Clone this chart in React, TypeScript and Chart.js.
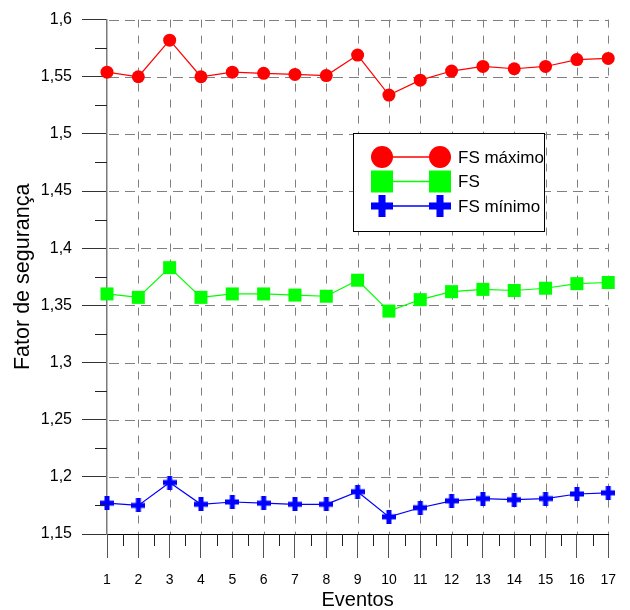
import React, { useEffect, useRef } from "react";
import { Chart, registerables } from "chart.js";

Chart.register(...registerables);

// ---- data ----
const eventos = [1, 2, 3, 4, 5, 6, 7, 8, 9, 10, 11, 12, 13, 14, 15, 16, 17];
const fsMaximo = [1.554, 1.550, 1.582, 1.550, 1.554, 1.553, 1.552, 1.551, 1.569, 1.534, 1.547, 1.555, 1.559, 1.557, 1.559, 1.565, 1.566];
const fsMedio = [1.360, 1.357, 1.383, 1.357, 1.360, 1.360, 1.359, 1.358, 1.372, 1.345, 1.355, 1.362, 1.364, 1.363, 1.365, 1.369, 1.370];
const fsMinimo = [1.177, 1.175, 1.195, 1.176, 1.178, 1.177, 1.176, 1.176, 1.187, 1.165, 1.173, 1.179, 1.181, 1.180, 1.181, 1.185, 1.186];
const seriesNames = ["FS máximo", "FS", "FS mínimo"];
const yTickValues = [1.15, 1.2, 1.25, 1.3, 1.35, 1.4, 1.45, 1.5, 1.55, 1.6];
const yTickLabels = ["1,15", "1,2", "1,25", "1,3", "1,35", "1,4", "1,45", "1,5", "1,55", "1,6"];
const xTickLabels = eventos.map((e) => String(e));
const xTitle = "Eventos";
const yTitle = "Fator de segurança";

const FONT = "'Liberation Sans', Arial, sans-serif";
const RED = "#ff0000";
const GREEN = "#00ff00";
const BLUE = "#0000ff";

function makeCross(size: number, thick: number, color: string) {
  const c = document.createElement("canvas");
  c.width = size;
  c.height = size;
  const g = c.getContext("2d")!;
  g.fillStyle = color;
  const o = (size - thick) / 2;
  g.fillRect(0, o, size, thick);
  g.fillRect(o, 0, thick, size);
  return c;
}

function drawMarker(ctx: CanvasRenderingContext2D, kind: string, x: number, y: number, size: number, color: string) {
  ctx.fillStyle = color;
  if (kind === "circle") {
    ctx.beginPath();
    ctx.arc(x, y, size / 2, 0, Math.PI * 2);
    ctx.fill();
  } else if (kind === "square") {
    ctx.fillRect(x - size / 2, y - size / 2, size, size);
  } else {
    const t = size * 0.32;
    ctx.fillRect(x - size / 2, y - t / 2, size, t);
    ctx.fillRect(x - t / 2, y - size / 2, t, size);
  }
}

// dashed line drawn as explicit segments
function dashLine(ctx: CanvasRenderingContext2D, x0: number, y0: number, x1: number, y1: number, on: number, off: number) {
  const len = Math.hypot(x1 - x0, y1 - y0);
  const ux = (x1 - x0) / len;
  const uy = (y1 - y0) / len;
  let d = 0;
  ctx.beginPath();
  while (d < len) {
    const e = Math.min(d + on, len);
    ctx.moveTo(x0 + ux * d, y0 + uy * d);
    ctx.lineTo(x0 + ux * e, y0 + uy * e);
    d += on + off;
  }
  ctx.stroke();
}

const dashedGridPlugin = {
  id: "dashedGrid",
  beforeDatasetsDraw(chart: any) {
    const { ctx, chartArea, scales } = chart;
    const xs = scales.x;
    const ys = scales.y;
    ctx.save();
    ctx.strokeStyle = "#808080";
    ctx.lineWidth = 1;
    for (const v of eventos) {
      if (v === eventos[0]) continue;
      const px = Math.round(xs.getPixelForValue(v)) + 0.5;
      dashLine(ctx, px, chartArea.top, px, chartArea.bottom, 8, 8);
    }
    for (const v of yTickValues) {
      if (v === yTickValues[0]) continue;
      const py = Math.round(ys.getPixelForValue(v)) + 0.5;
      dashLine(ctx, chartArea.left + 2, py, chartArea.right, py, 10, 6);
    }
    ctx.restore();
  },
};

const minorTicksPlugin = {
  id: "minorTicks",
  afterDraw(chart: any) {
    const { ctx, chartArea, scales } = chart;
    const xs = scales.x;
    const ys = scales.y;
    ctx.save();
    ctx.strokeStyle = "#222";
    ctx.lineWidth = 1;
    ctx.beginPath();
    for (let i = 0; i < yTickValues.length - 1; i++) {
      const v = (yTickValues[i] + yTickValues[i + 1]) / 2;
      const py = Math.round(ys.getPixelForValue(v)) + 0.5;
      ctx.moveTo(chartArea.left - 12, py);
      ctx.lineTo(chartArea.left, py);
    }
    for (let i = 0; i < eventos.length - 1; i++) {
      const v = (eventos[i] + eventos[i + 1]) / 2;
      const px = Math.round(xs.getPixelForValue(v)) + 0.5;
      ctx.moveTo(px, chartArea.bottom);
      ctx.lineTo(px, chartArea.bottom + 12);
    }
    ctx.stroke();
    ctx.restore();
  },
};

const kinds = ["circle", "square", "cross"];

const legendPlugin = {
  id: "boxLegend",
  afterDatasetsDraw(chart: any) {
    const { ctx } = chart;
    const left = 353.5;
    const top = 133.5;
    const w = 191;
    const h = 98;
    ctx.save();
    ctx.fillStyle = "#ffffff";
    ctx.fillRect(left, top, w, h);
    ctx.strokeStyle = "#000";
    ctx.lineWidth = 1;
    ctx.strokeRect(left, top, w, h);
    chart.data.datasets.forEach((ds: any, i: number) => {
      const cy = 157 + i * 24.5;
      const x1 = 382;
      const x2 = 440;
      ctx.strokeStyle = ds.borderColor;
      ctx.lineWidth = 1.5;
      ctx.beginPath();
      ctx.moveTo(x1, cy);
      ctx.lineTo(x2, cy);
      ctx.stroke();
      drawMarker(ctx, kinds[i], x1, cy, 22, ds.borderColor);
      drawMarker(ctx, kinds[i], x2, cy, 22, ds.borderColor);
      ctx.fillStyle = "#000";
      ctx.font = `17px ${FONT}`;
      ctx.textAlign = "left";
      ctx.textBaseline = "middle";
      ctx.fillText(ds.label, 458, cy + 1);
    });
    ctx.restore();
  },
};

export default function App() {
  const ref = useRef<HTMLCanvasElement | null>(null);

  useEffect(() => {
    if (!ref.current) return;
    const cross = makeCross(14, 5, BLUE);
    const pts = (arr: number[]) => arr.map((v, i) => ({ x: eventos[i], y: v }));
    const chart = new Chart(ref.current, {
      type: "line",
      data: {
        datasets: [
          {
            label: seriesNames[0],
            data: pts(fsMaximo),
            borderColor: RED,
            backgroundColor: RED,
            borderWidth: 1.2,
            pointStyle: "circle",
            pointRadius: 6.5,
            pointBorderWidth: 0,
            clip: false as any,
          },
          {
            label: seriesNames[1],
            data: pts(fsMedio),
            borderColor: GREEN,
            backgroundColor: GREEN,
            borderWidth: 1.2,
            pointStyle: "rect",
            pointRadius: 9.2,
            pointBorderWidth: 0,
            clip: false as any,
          },
          {
            label: seriesNames[2],
            data: pts(fsMinimo),
            borderColor: BLUE,
            backgroundColor: BLUE,
            borderWidth: 1.2,
            pointStyle: cross as any,
            pointRadius: 7,
            pointBorderWidth: 0,
            clip: false as any,
          },
        ],
      },
      options: {
        animation: false,
        responsive: false,
        events: [],
        layout: { padding: { top: 16, right: 12, left: 0, bottom: 0 } },
        plugins: {
          legend: { display: false },
          tooltip: { enabled: false },
        },
        scales: {
          x: {
            type: "linear",
            min: 1,
            max: 17,
            afterFit: (s: any) => {
              s.height = 76;
            },
            afterBuildTicks: (s: any) => {
              s.ticks = eventos.map((v) => ({ value: v }));
            },
            ticks: {
              callback: (_v: any, i: number) => xTickLabels[i],
              font: { family: FONT, size: 14 },
              color: "#000",
              padding: 14,
              maxRotation: 0,
              autoSkip: false,
            },
            grid: {
              drawOnChartArea: false,
              drawTicks: true,
              tickLength: 24,
              tickColor: "#555",
              tickWidth: 1,
            },
            border: { display: true, color: "#000", width: 1 },
            title: {
              display: true,
              text: xTitle,
              font: { family: FONT, size: 20, lineHeight: 1.0 },
              color: "#000",
              padding: { top: 0, bottom: 0 },
            },
          },
          y: {
            type: "linear",
            min: 1.15,
            max: 1.6,
            afterFit: (s: any) => {
              s.width = 107;
            },
            afterBuildTicks: (s: any) => {
              s.ticks = yTickValues.map((v) => ({ value: v }));
            },
            ticks: {
              callback: (_v: any, i: number) => yTickLabels[i],
              font: { family: FONT, size: 16 },
              color: "#000",
              padding: 10,
              autoSkip: false,
            },
            grid: {
              drawOnChartArea: false,
              drawTicks: true,
              tickLength: 25,
              tickColor: "#333",
              tickWidth: 1,
            },
            border: { display: true, color: "#7a7a7a", width: 1.5 },
            title: {
              display: true,
              text: yTitle,
              font: { family: FONT, size: 21.5, lineHeight: 1.2 },
              color: "#000",
              padding: { top: 10, bottom: 0 },
            },
          },
        },
      },
      plugins: [dashedGridPlugin, minorTicksPlugin, legendPlugin],
    } as any);
    return () => chart.destroy();
  }, []);

  return (
    <div style={{ position: "fixed", left: 0, top: 0, width: 630, height: 610, background: "#fff" }}>
      <canvas ref={ref} width={630} height={610} style={{ display: "block" }} />
    </div>
  );
}
